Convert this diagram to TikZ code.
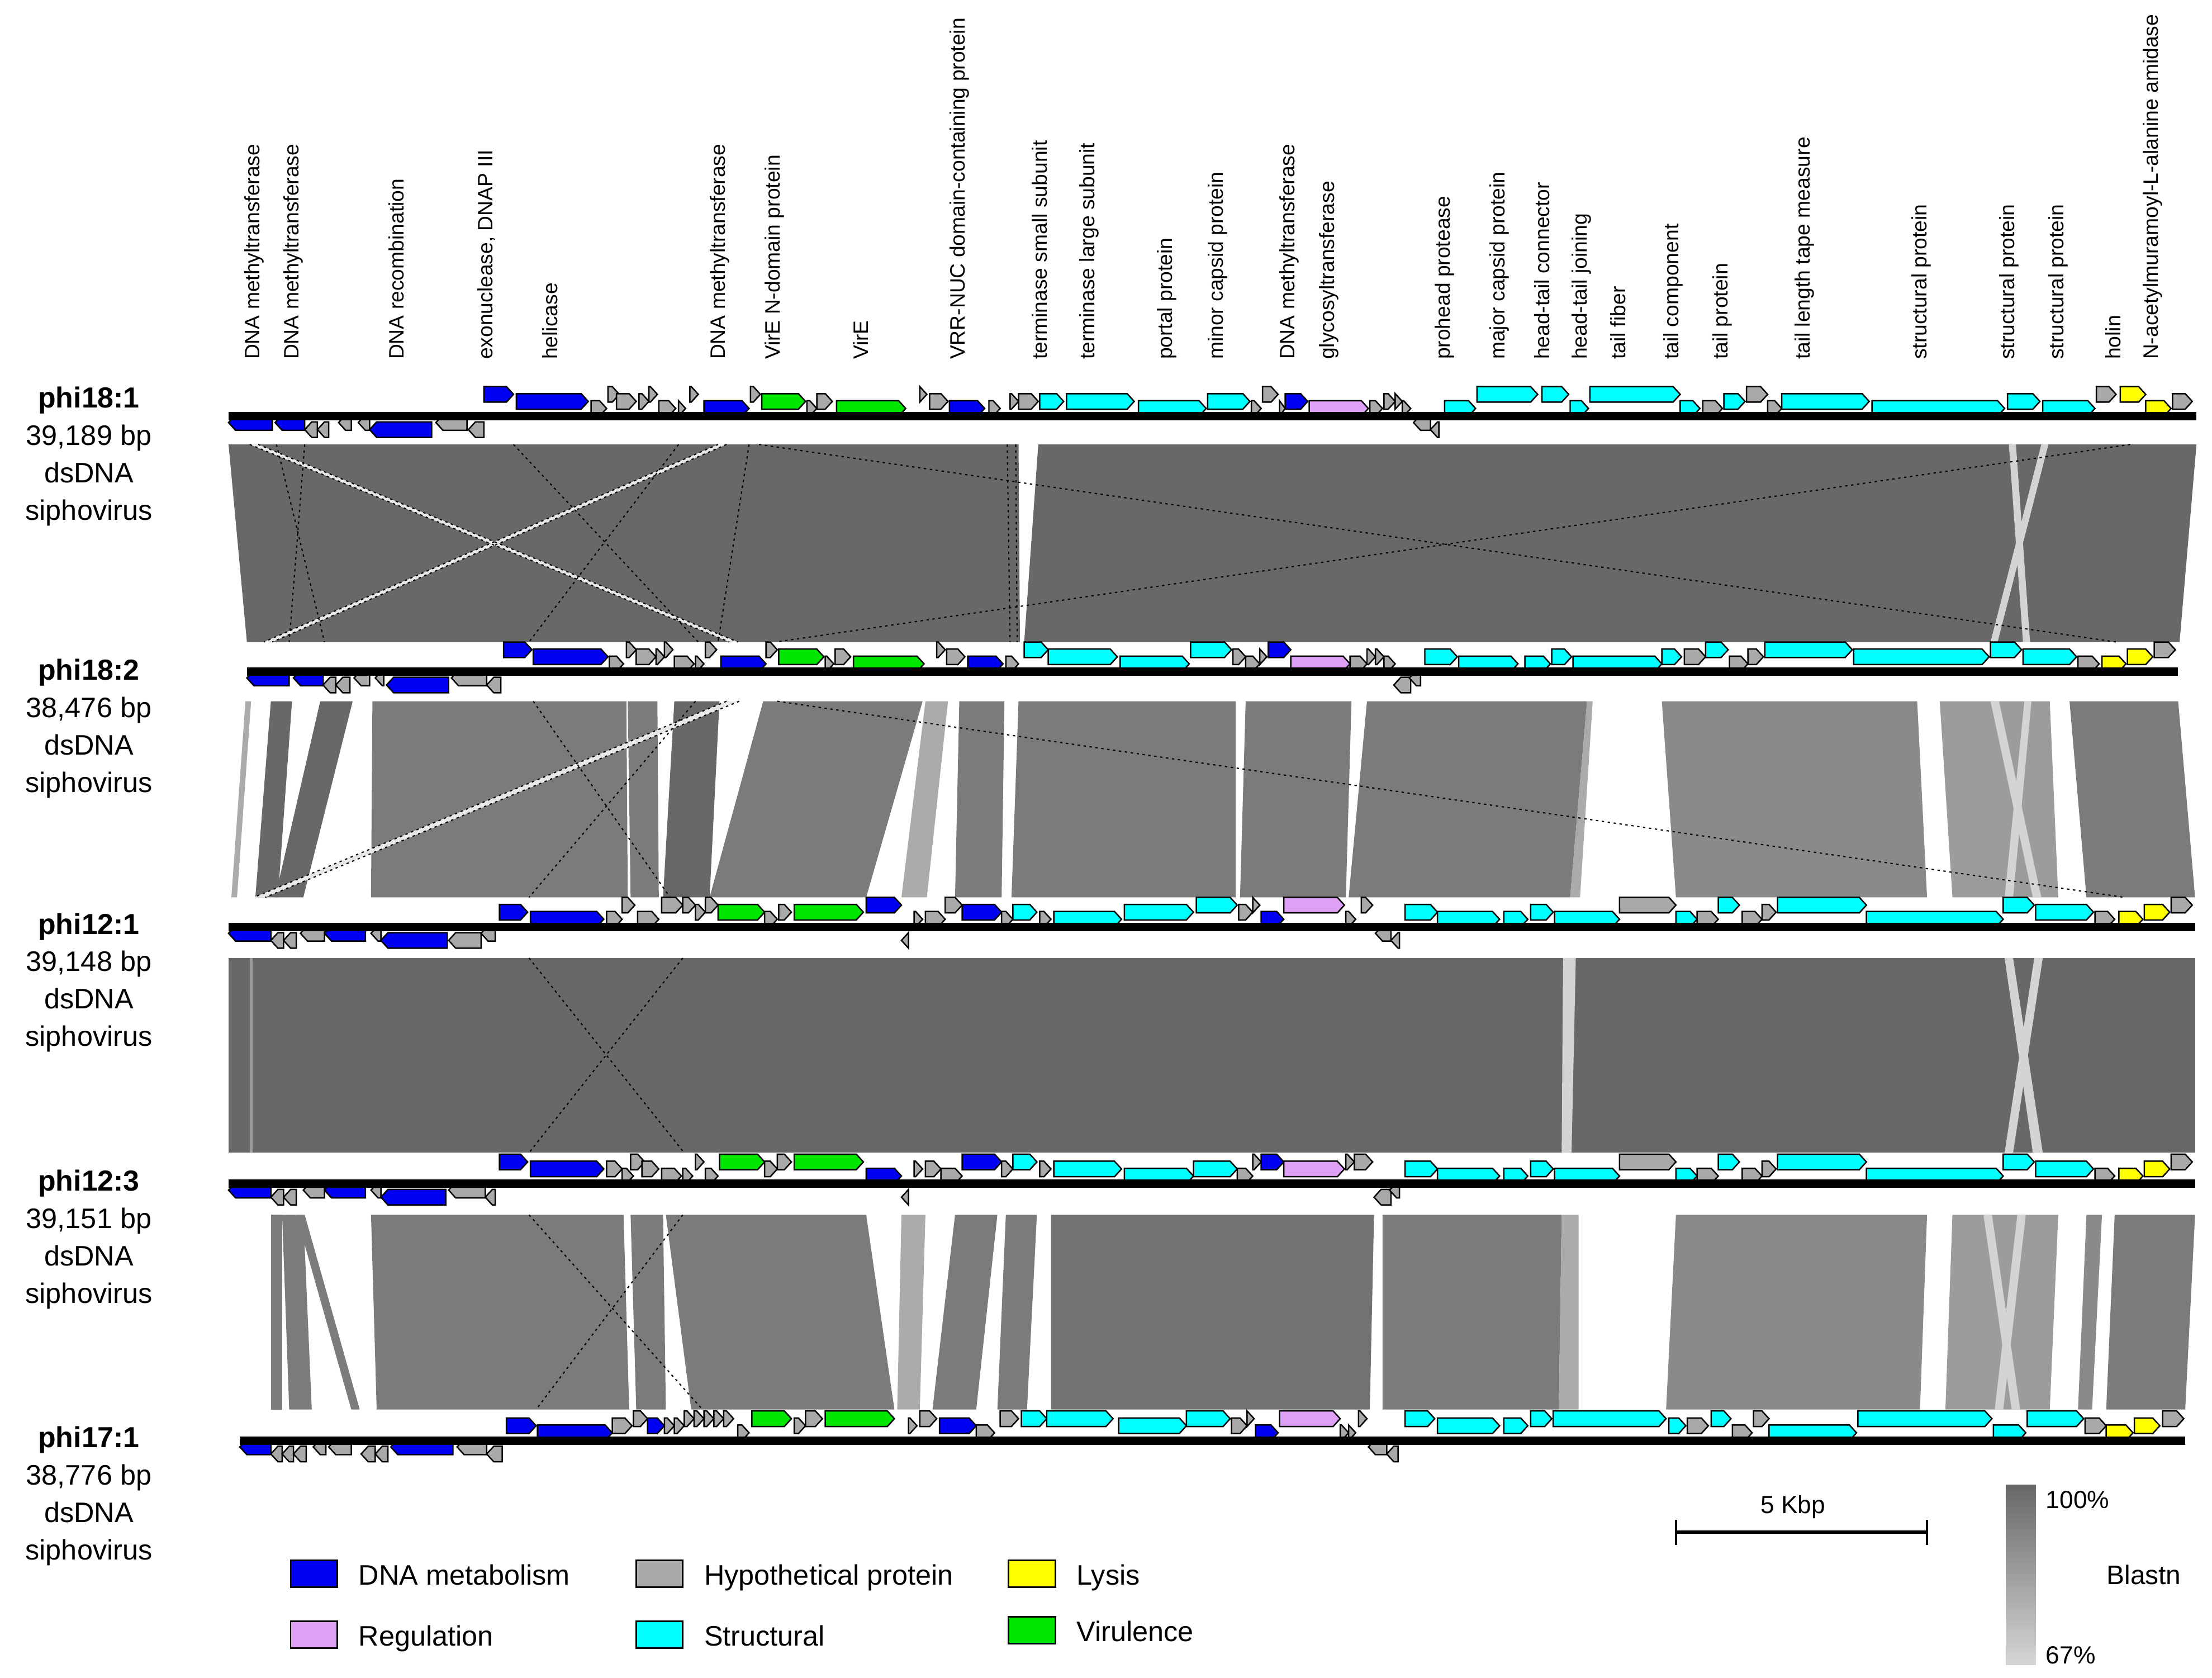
\documentclass[tikz,border=0pt]{standalone}
\usepackage{fontspec}
\setmainfont{Liberation Sans}

\definecolor{dna}{HTML}{0000F5}
\definecolor{hyp}{HTML}{A9A9A9}
\definecolor{str}{HTML}{00FFFF}
\definecolor{lys}{HTML}{FFFF00}
\definecolor{reg}{HTML}{DDA0F5}
\definecolor{vir}{HTML}{00E600}
\definecolor{idA}{HTML}{686868}
\definecolor{idAB}{HTML}{727272}
\definecolor{idB}{HTML}{7B7B7B}
\definecolor{idC}{HTML}{8A8A8A}
\definecolor{idD}{HTML}{9C9C9C}
\definecolor{idE}{HTML}{ABABAB}
\definecolor{idF}{HTML}{D4D4D4}
\definecolor{idG}{HTML}{E8E8E8}

% bar y, start, end, genes (start/end/level/colour)
\newcommand{\genome}[4]{%
  \foreach \xa/\xb/\lv/\col in {#4}{%
    \pgfmathsetmacro{\gtip}{min(5,\xb-\xa)}%
    \pgfmathsetmacro{\gtop}{#1+(\lv<0 ? -6-5*(\lv) : -11-5*(\lv))}%
    \ifdim\lv pt<0pt
      \draw[gene,fill=\col] (\xb,\gtop) -- (\xa+\gtip,\gtop) -- (\xa,\gtop+5.5) -- (\xa+\gtip,\gtop+11) -- (\xb,\gtop+11) -- cycle;
    \else
      \draw[gene,fill=\col] (\xa,\gtop) -- (\xb-\gtip,\gtop) -- (\xb,\gtop+5.5) -- (\xb-\gtip,\gtop+11) -- (\xa,\gtop+11) -- cycle;
    \fi
  }
  \fill[black] (#2,#1-3) rectangle (#3,#1+3);
}

% top y, bottom y, blocks (top from/top to/bottom from/bottom to/colour)
\newcommand{\blastpair}[3]{%
  \foreach \ta/\tb/\ba/\bb/\col in {#3}{%
    \fill[\col] (\ta,#1) -- (\tb,#1) -- (\bb,#2) -- (\ba,#2) -- cycle;
  }
}

\begin{document}
\begin{tikzpicture}[x=0.025cm, y=-0.025cm,
    gene/.style={draw=black, line width=0.7pt, line join=miter},
    inv/.style={line width=0.6pt, dash pattern=on 1.2pt off 1.8pt},
    toplabel/.style={rotate=90, anchor=west, inner sep=0pt, font=\fontsize{10.5}{12}\selectfont},
    phagename/.style={anchor=base, inner sep=0pt, font=\fontsize{14.6}{17}\selectfont\bfseries},
    phageinfo/.style={anchor=base, inner sep=0pt, font=\fontsize{14.2}{17}\selectfont},
    legendbox/.style={draw=black, line width=0.8pt},
    legendtext/.style={anchor=base west, inner sep=0pt, font=\fontsize{14.2}{17}\selectfont},
    scaletext/.style={inner sep=0pt, font=\fontsize{12.5}{15}\selectfont}]
  \useasboundingbox (0,0) rectangle (1568,1189);

  % phi18:1 - phi18:2
  \blastpair{315}{455}{162/722/175/723/idA, 736/1557/726/1545/idA}
  \blastpair{315}{455}{177/183/517/523/idG, 509/515/187/193/idG,
    1424/1429/1434/1439/idF, 1447/1452/1411/1416/idF}
  \draw[inv] (177,315) -- (517,455) (183,315) -- (523,455);
  \draw[inv] (509,315) -- (187,455) (515,315) -- (193,455);
  \draw[inv] (364,315) -- (495,455);
  \draw[inv] (481,315) -- (375,455);
  \draw[inv] (196,315) -- (230,455);
  \draw[inv] (216,315) -- (205,455);
  \draw[inv] (531,315) -- (509,455);
  \draw[inv] (538,315) -- (1500,455);
  \draw[inv] (1510,315) -- (550,455);
  \draw[inv] (714,315) -- (716,455);
  \draw[inv] (720,315) -- (721,455);

  % phi18:2 - phi12:1
  \blastpair{497}{636}{174/178/164/168/idE, 192/207/181/197/idA, 227/250/195/215/idA,
    264/444/263/445/idB, 445/466/447/467/idB, 478/510/470/503/idA, 541/654/503/614/idB,
    656/672/639/657/idE, 680/712/677/710/idB, 722/876/717/876/idB, 883/958/879/954/idB,
    969/1125/956/1113/idB, 1125/1129/1113/1120/idE, 1178/1359/1188/1366/idC,
    1375/1453/1384/1459/idD, 1467/1544/1479/1556/idB}
  \blastpair{497}{636}{515/524/180/188/idG, 1411/1417/1441/1447/idF, 1435/1440/1421/1427/idF}
  \draw[inv] (515,497) -- (180,636) (524,497) -- (188,636);
  \draw[inv] (378,497) -- (475,636);
  \draw[inv] (493,497) -- (375,636);
  \draw[inv] (551,497) -- (1506,636);

  % phi12:1 - phi12:3
  \blastpair{679}{817}{162/1556/162/1556/idA}
  \blastpair{679}{817}{177/179/177/179/idD, 1108/1117/1107/1114/idF,
    1421/1427/1441/1448/idF, 1442/1448/1421/1427/idF}
  \draw[inv] (375,679) -- (485,817);
  \draw[inv] (484,679) -- (375,817);

  % phi12:3 - phi17:1
  \blastpair{861}{999}{192/200/192/200/idB, 200/215/205/221/idB, 210/216/249/255/idB,
    263/442/267/446/idB, 447/470/451/472/idB, 472/614/490/634/idB, 639/656/636/652/idE,
    677/707/661/692/idB, 713/735/707/728/idB, 745/974/745/971/idAB, 980/1107/980/1105/idB,
    1107/1119/1105/1119/idE, 1188/1366/1181/1361/idC, 1384/1459/1379/1453/idD,
    1479/1490/1473/1483/idC, 1499/1556/1493/1549/idB}
  \blastpair{861}{999}{1406/1412/1426/1432/idF, 1430/1436/1414/1420/idF}
  \draw[inv] (375,861) -- (498,999);
  \draw[inv] (484,861) -- (380,999);

  % genomes
  \genome{295}{162}{1557}{343/364/2/dna, 366/417/1/dna, 419/430/0/hyp, 431/439/2/hyp,
    437/451/1/hyp, 453/460/1/hyp, 460/466/2/hyp, 467/479/0/hyp, 481/486/0/hyp,
    489/495/2/hyp, 499/531/0/dna, 532/539/2/hyp, 540/571/1/vir, 572/579/0/hyp,
    579/590/1/hyp, 593/642/0/vir, 652/657/2/hyp, 659/672/1/hyp, 673/698/0/dna,
    701/709/0/hyp, 716/722/1/hyp, 722/736/1/hyp, 737/754/1/str, 756/804/1/str,
    807/855/0/str, 856/886/1/str, 887/894/0/hyp, 895/906/2/hyp, 907/911/0/hyp,
    911/927/1/dna, 928/970/0/reg, 971/980/0/hyp, 981/989/1/hyp, 989/994/1/hyp,
    994/1000/0/hyp, 1024/1046/0/str, 1047/1090/2/str, 1093/1112/2/str, 1113/1126/0/str,
    1127/1191/2/str, 1191/1205/0/str, 1207/1221/0/hyp, 1222/1237/1/str, 1238/1253/2/hyp,
    1253/1263/0/hyp, 1263/1325/1/str, 1327/1421/0/str, 1423/1446/1/str, 1448/1485/0/str,
    1486/1500/2/hyp, 1503/1521/2/lys, 1521/1539/0/lys, 1540/1554/1/hyp,
    162/193/-1/dna, 195/216/-1/dna, 216/225/-2/hyp, 225/233/-2/hyp, 240/249/-1/hyp,
    254/262/-1/hyp, 262/306/-2/dna, 309/331/-1/hyp, 332/343/-2/hyp, 1002/1014/-1/hyp,
    1014/1020/-2/hyp}

  \genome{476}{175}{1544}{357/377/2/dna, 378/431/1/dna, 432/442/0/hyp, 444/451/2/hyp,
    451/465/1/hyp, 465/471/1/hyp, 471/477/2/hyp, 478/492/0/hyp, 493/499/0/hyp,
    500/508/2/hyp, 511/543/0/dna, 543/551/2/hyp, 552/584/1/vir, 585/591/0/hyp,
    592/603/1/hyp, 605/655/0/vir, 664/670/2/hyp, 671/684/1/hyp, 686/711/0/dna,
    713/722/0/hyp, 726/743/2/str, 743/792/1/str, 794/843/0/str, 844/873/2/str,
    874/883/1/hyp, 883/893/0/hyp, 893/898/1/hyp, 899/915/2/dna, 915/957/0/reg,
    957/969/0/hyp, 969/975/1/hyp, 975/981/1/hyp, 981/989/0/hyp, 1010/1033/1/str,
    1034/1076/0/str, 1081/1099/0/str, 1100/1114/1/str, 1115/1178/0/str, 1178/1192/1/str,
    1194/1209/1/hyp, 1209/1225/2/str, 1226/1239/0/hyp, 1239/1250/1/hyp, 1251/1313/2/str,
    1314/1410/1/str, 1411/1433/2/str, 1434/1472/1/str, 1473/1488/0/hyp, 1490/1507/0/lys,
    1508/1526/1/lys, 1527/1542/2/hyp,
    175/205/-1/dna, 208/229/-1/dna, 229/238/-2/hyp, 238/248/-2/hyp, 251/262/-1/hyp,
    266/272/-1/hyp, 274/318/-2/dna, 320/345/-1/hyp, 345/355/-2/hyp, 988/1000/-2/hyp,
    999/1007/-1/hyp}

  \genome{657}{162}{1556}{354/374/1/dna, 376/428/0/dna, 430/441/0/hyp, 441/450/2/hyp,
    452/467/0/hyp, 469/484/2/hyp, 484/493/2/hyp, 493/500/1/hyp, 500/509/2/hyp,
    509/542/1/vir, 542/551/0/hyp, 552/561/1/hyp, 563/612/1/vir, 614/639/2/dna,
    648/654/0/hyp, 656/670/0/hyp, 670/682/2/hyp, 682/710/1/dna, 710/718/0/hyp,
    718/735/1/str, 737/745/0/hyp, 747/795/0/str, 797/846/1/str, 848/877/2/str,
    878/888/1/hyp, 888/893/2/hyp, 894/910/0/dna, 910/953/2/reg, 954/961/0/hyp,
    965/973/2/hyp, 996/1019/1/str, 1019/1063/0/str, 1066/1083/0/str, 1085/1101/1/str,
    1102/1148/0/str, 1148/1188/2/hyp, 1188/1203/0/str, 1203/1218/0/hyp, 1218/1233/2/str,
    1235/1249/0/hyp, 1249/1259/1/hyp, 1260/1323/2/str, 1323/1420/0/str, 1420/1442/2/str,
    1443/1484/1/str, 1485/1499/0/hyp, 1502/1519/0/lys, 1520/1538/1/lys, 1539/1554/2/hyp,
    162/192/-1/dna, 192/201/-2/hyp, 201/210/-2/hyp, 213/230/-1/hyp, 230/259/-1/dna,
    263/270/-1/hyp, 270/317/-2/dna, 318/341/-2/hyp, 341/351/-1/hyp, 639/644/-2/hyp,
    975/986/-1/hyp, 986/992/-2/hyp}

  \genome{839}{162}{1556}{354/374/2/dna, 376/428/1/dna, 430/441/1/hyp, 441/449/0/hyp,
    447/457/2/hyp, 455/467/1/hyp, 469/483/0/hyp, 484/491/0/hyp, 493/499/2/hyp,
    500/509/0/hyp, 510/542/2/vir, 542/551/1/hyp, 551/561/2/hyp, 563/612/2/vir,
    614/639/0/dna, 648/654/1/hyp, 656/667/1/hyp, 667/682/0/hyp, 682/710/2/dna,
    710/718/1/hyp, 718/735/2/str, 737/745/1/hyp, 747/795/1/str, 797/846/0/str,
    846/877/1/str, 877/888/0/hyp, 888/894/2/hyp, 894/910/2/dna, 910/953/1/reg,
    954/960/2/hyp, 960/973/2/hyp, 996/1019/1/str, 1019/1063/0/str, 1066/1083/0/str,
    1085/1101/1/str, 1102/1148/0/str, 1148/1188/2/hyp, 1188/1203/0/str, 1203/1218/0/hyp,
    1218/1233/2/str, 1235/1249/0/hyp, 1249/1259/1/hyp, 1260/1323/2/str, 1323/1420/0/str,
    1420/1442/2/str, 1443/1484/1/str, 1485/1499/0/hyp, 1502/1519/0/lys, 1520/1538/1/lys,
    1539/1554/2/hyp,
    162/192/-1/dna, 192/201/-2/hyp, 201/210/-2/hyp, 215/230/-1/hyp, 230/259/-1/dna,
    263/270/-1/hyp, 270/316/-2/dna, 318/344/-1/hyp, 344/351/-2/hyp, 639/644/-2/hyp,
    974/986/-2/hyp, 985/992/-1/hyp}

  \genome{1021}{170}{1549}{359/380/1/dna, 381/434/0/dna, 434/448/1/hyp, 449/459/2/hyp,
    459/471/1/dna, 471/478/1/hyp, 478/485/1/hyp, 485/492/2/hyp, 492/499/2/hyp,
    499/506/2/hyp, 506/513/2/hyp, 513/520/2/hyp, 523/531/0/hyp, 533/561/2/vir,
    563/571/1/hyp, 571/583/2/hyp, 585/634/2/vir, 644/650/1/hyp, 652/664/2/hyp,
    666/692/1/dna, 692/705/0/hyp, 709/722/2/hyp, 724/742/2/str, 742/789/2/str,
    793/841/1/str, 841/872/2/str, 873/884/1/hyp, 884/889/2/hyp, 890/906/0/dna,
    907/950/2/reg, 950/956/0/hyp, 956/961/0/hyp, 963/969/2/hyp, 996/1017/2/str,
    1019/1063/1/str, 1066/1083/1/str, 1085/1100/2/str, 1101/1181/2/str, 1183/1195/1/str,
    1196/1211/1/hyp, 1213/1227/2/str, 1228/1242/0/hyp, 1243/1254/2/hyp, 1254/1316/0/str,
    1317/1412/2/str, 1413/1436/0/str, 1437/1477/2/str, 1478/1493/1/hyp, 1493/1512/0/lys,
    1513/1531/1/lys, 1533/1548/2/hyp,
    170/192/-1/dna, 192/200/-2/hyp, 200/208/-2/hyp, 208/217/-2/hyp, 222/231/-1/hyp,
    233/249/-1/hyp, 256/266/-2/hyp, 266/275/-2/hyp, 277/321/-1/dna, 324/345/-1/hyp,
    345/356/-2/hyp, 970/983/-1/hyp, 983/991/-2/hyp}

  % gene names
  \foreach \lx/\txt [count=\i] in {180/DNA methyltransferase, 208/DNA methyltransferase,
    281/DNA recombination, 345/{exonuclease, DNAP III}, 390/helicase,
    510/DNA methyltransferase, 549/VirE N-domain protein, 610/VirE,
    680/VRR-NUC domain-containing protein, 737/terminase small subunit,
    772/terminase large subunit, 827/portal protein, 863/minor capsid protein,
    914/DNA methyltransferase, 942/glycosyltransferase, 1024/prohead protease,
    1063/major capsid protein, 1093/head-tail connector, 1121/head-tail joining,
    1147/tail fiber, 1186/tail component, 1221/tail protein,
    1279/tail length tape measure, 1362/structural protein, 1424/structural protein,
    1459/structural protein, 1498/holin, 1526/N-acetylmuramoyl-L-alanine amidase}
    \node[toplabel] (gname\i) at (\lx,255) {\txt};

  % phage labels
  \foreach \yb/\nm/\len/\nn in {289/phi18:1/{39,189 bp}/a, 482/phi18:2/{38,476 bp}/b,
    662/phi12:1/{39,148 bp}/c, 844/phi12:3/{39,151 bp}/d, 1026/phi17:1/{38,776 bp}/e}{
    \node[phagename] (name\nn) at (63,\yb) {\nm};
    \node[phageinfo] (size\nn) at (63,\yb+26.5) {\len};
    \node[phageinfo] (type\nn) at (63,\yb+53) {dsDNA};
    \node[phageinfo] (fam\nn) at (63,\yb+79.5) {siphovirus};
  }

  % legend
  \foreach \lx/\ly/\col/\txt in {206/1106/dna/DNA metabolism, 451/1106/hyp/Hypothetical protein,
    715/1106/lys/Lysis, 206/1149/reg/Regulation, 451/1149/str/Structural, 715/1146/vir/Virulence}{
    \draw[legendbox, fill=\col] (\lx,\ly) rectangle ++(33,19);
    \node[legendtext] (leg\col) at (\lx+48,\ly+17.5) {\txt};
  }

  % scale bar
  \coordinate (sbl) at (1188,1086);
  \coordinate (sbr) at (1366,1086);
  \draw[line width=1.6pt] (sbl) -- (sbr);
  \draw[line width=1pt] (1188,1077) -- (1188,1095);
  \draw[line width=1pt] (1366,1077) -- (1366,1095);
  \node[scaletext] (kbp) at (1271,1068) {5 Kbp};

  % identity scale
  \foreach \i in {0,...,31}{
    \pgfmathsetmacro{\pct}{100-\i*100/31}
    \fill[idA!\pct!idF] (1422,1052+\i*4) rectangle (1443,1056.3+\i*4);
  }
  \node[scaletext, anchor=west] (top) at (1450,1063) {100\%};
  \node[scaletext, anchor=west] (bottom) at (1450,1173) {67\%};
  \node[scaletext, anchor=west, font=\fontsize{13.5}{16}\selectfont] (blastn) at (1493,1116) {Blastn};
\end{tikzpicture}
\end{document}
